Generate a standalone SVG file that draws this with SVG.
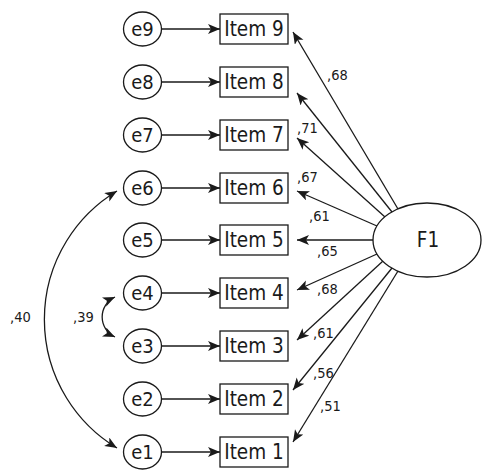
<svg xmlns="http://www.w3.org/2000/svg" width="484" height="470" viewBox="0 0 484 470">
  <style>
    .bg { fill: #ffffff; }
    .err { fill: #ffffff; stroke: #1a1a1a; stroke-width: 1.3; }
    .box { fill: #ffffff; stroke: #1a1a1a; stroke-width: 1.3; }
    .lbl { font-family: "DejaVu Sans Condensed", "DejaVu Sans", sans-serif; font-stretch: condensed; fill: #1a1a1a; }
    .big { font-size: 20.5px; }
    .mid { font-size: 20px; }
    .sm { font-size: 14.5px; }
    .path { fill: none; stroke: #1a1a1a; stroke-width: 1.3; }
  </style>
  <defs>
    <marker id="arr" markerUnits="userSpaceOnUse" markerWidth="13" markerHeight="11" refX="12" refY="5" orient="auto-start-reverse">
      <path d="M0,0 L12,5 L0,10 L3,5 z" fill="#1a1a1a"/>
    </marker>
  </defs>
  <rect class="bg" x="0" y="0" width="484" height="470"/>

  <!-- connectors: error terms, loadings and covariances -->
  <g id="connectors">
    <line class="path" x1="161" y1="29" x2="220" y2="29" marker-end="url(#arr)"/>
    <line class="path" x1="161" y1="82" x2="220" y2="82" marker-end="url(#arr)"/>
    <line class="path" x1="161" y1="135" x2="220" y2="135" marker-end="url(#arr)"/>
    <line class="path" x1="161" y1="188" x2="220" y2="188" marker-end="url(#arr)"/>
    <line class="path" x1="161" y1="240" x2="220" y2="240" marker-end="url(#arr)"/>
    <line class="path" x1="161" y1="293" x2="220" y2="293" marker-end="url(#arr)"/>
    <line class="path" x1="161" y1="346" x2="220" y2="346" marker-end="url(#arr)"/>
    <line class="path" x1="161" y1="399" x2="220" y2="399" marker-end="url(#arr)"/>
    <line class="path" x1="161" y1="452" x2="220" y2="452" marker-end="url(#arr)"/>

    <line class="path" x1="398" y1="209" x2="293" y2="32" marker-end="url(#arr)"/>
    <line class="path" x1="392" y1="212" x2="297" y2="93" marker-end="url(#arr)"/>
    <line class="path" x1="385" y1="217" x2="297" y2="138" marker-end="url(#arr)"/>
    <line class="path" x1="377" y1="226" x2="297" y2="191" marker-end="url(#arr)"/>
    <line class="path" x1="373" y1="240" x2="297" y2="240" marker-end="url(#arr)"/>
    <line class="path" x1="377" y1="254" x2="297" y2="290" marker-end="url(#arr)"/>
    <line class="path" x1="383" y1="261" x2="297" y2="340" marker-end="url(#arr)"/>
    <line class="path" x1="392" y1="268" x2="293" y2="390" marker-end="url(#arr)"/>
    <line class="path" x1="398" y1="271" x2="293" y2="442" marker-end="url(#arr)"/>

    <path class="path" d="M117,191 A150,150 0 0 0 117,448" marker-start="url(#arr)" marker-end="url(#arr)"/>
    <path class="path" d="M115,297 A22,22 0 0 0 115,337" marker-start="url(#arr)" marker-end="url(#arr)"/>

    <text class="lbl sm" x="327" y="80">,68</text>
    <text class="lbl sm" x="297" y="133">,71</text>
    <text class="lbl sm" x="297" y="182">,67</text>
    <text class="lbl sm" x="309" y="221">,61</text>
    <text class="lbl sm" x="317" y="256">,65</text>
    <text class="lbl sm" x="317" y="294">,68</text>
    <text class="lbl sm" x="313" y="338">,61</text>
    <text class="lbl sm" x="313" y="378">,56</text>
    <text class="lbl sm" x="320" y="411">,51</text>
    <text class="lbl sm" x="10" y="322">,40</text>
    <text class="lbl sm" x="73" y="322">,39</text>
  </g>

  <!-- latent factor -->
  <g id="F1">
    <ellipse class="err" cx="427" cy="240" rx="54" ry="37"/>
    <text class="lbl big" x="428" y="247" text-anchor="middle">F1</text>
  </g>

  <!-- observed items -->
  <g id="item9"><rect class="box" x="220" y="14" width="68" height="30"/><text class="lbl big" x="254" y="36" text-anchor="middle">Item 9</text></g>
  <g id="item8"><rect class="box" x="220" y="67" width="68" height="30"/><text class="lbl big" x="254" y="89" text-anchor="middle">Item 8</text></g>
  <g id="item7"><rect class="box" x="220" y="120" width="68" height="30"/><text class="lbl big" x="254" y="142" text-anchor="middle">Item 7</text></g>
  <g id="item6"><rect class="box" x="220" y="173" width="68" height="30"/><text class="lbl big" x="254" y="195" text-anchor="middle">Item 6</text></g>
  <g id="item5"><rect class="box" x="220" y="225" width="68" height="30"/><text class="lbl big" x="254" y="247" text-anchor="middle">Item 5</text></g>
  <g id="item4"><rect class="box" x="220" y="278" width="68" height="30"/><text class="lbl big" x="254" y="300" text-anchor="middle">Item 4</text></g>
  <g id="item3"><rect class="box" x="220" y="331" width="68" height="30"/><text class="lbl big" x="254" y="353" text-anchor="middle">Item 3</text></g>
  <g id="item2"><rect class="box" x="220" y="384" width="68" height="30"/><text class="lbl big" x="254" y="406" text-anchor="middle">Item 2</text></g>
  <g id="item1"><rect class="box" x="220" y="437" width="68" height="30"/><text class="lbl big" x="254" y="459" text-anchor="middle">Item 1</text></g>

  <!-- error terms -->
  <g id="e9"><ellipse class="err" cx="142.5" cy="29" rx="19" ry="17"/><text class="lbl mid" x="142.5" y="36" text-anchor="middle">e9</text></g>
  <g id="e8"><ellipse class="err" cx="142.5" cy="82" rx="19" ry="17"/><text class="lbl mid" x="142.5" y="89" text-anchor="middle">e8</text></g>
  <g id="e7"><ellipse class="err" cx="142.5" cy="135" rx="19" ry="17"/><text class="lbl mid" x="142.5" y="142" text-anchor="middle">e7</text></g>
  <g id="e6"><ellipse class="err" cx="142.5" cy="188" rx="19" ry="17"/><text class="lbl mid" x="142.5" y="195" text-anchor="middle">e6</text></g>
  <g id="e5"><ellipse class="err" cx="142.5" cy="240" rx="19" ry="17"/><text class="lbl mid" x="142.5" y="247" text-anchor="middle">e5</text></g>
  <g id="e4"><ellipse class="err" cx="142.5" cy="293" rx="19" ry="17"/><text class="lbl mid" x="142.5" y="300" text-anchor="middle">e4</text></g>
  <g id="e3"><ellipse class="err" cx="142.5" cy="346" rx="19" ry="17"/><text class="lbl mid" x="142.5" y="353" text-anchor="middle">e3</text></g>
  <g id="e2"><ellipse class="err" cx="142.5" cy="399" rx="19" ry="17"/><text class="lbl mid" x="142.5" y="406" text-anchor="middle">e2</text></g>
  <g id="e1"><ellipse class="err" cx="142.5" cy="452" rx="19" ry="17"/><text class="lbl mid" x="142.5" y="459" text-anchor="middle">e1</text></g>
</svg>
